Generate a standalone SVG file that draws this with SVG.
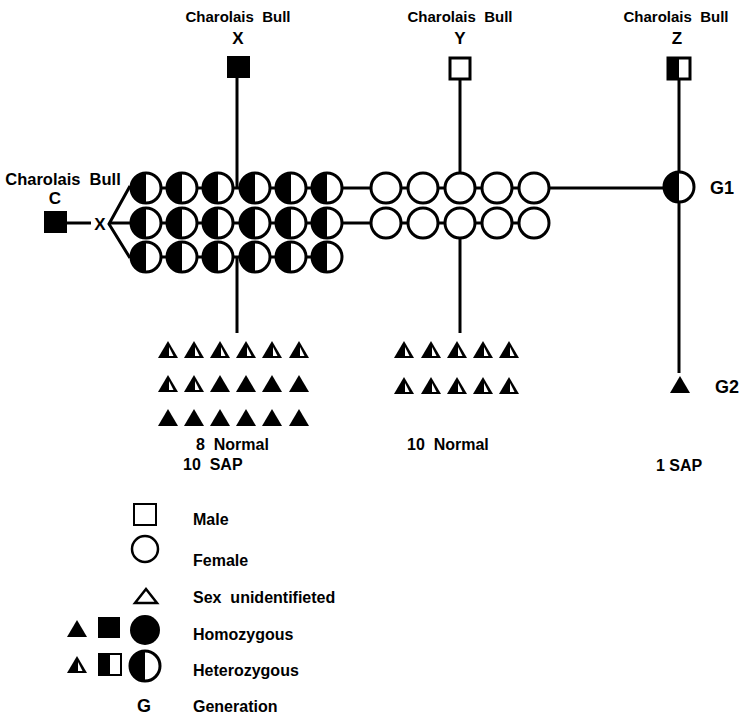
<svg xmlns="http://www.w3.org/2000/svg" xmlns:xlink="http://www.w3.org/1999/xlink" width="751" height="719" viewBox="0 0 751 719">
<style>
.ln{stroke:#000;stroke-width:3;fill:none}
.t{font-family:"Liberation Sans",Arial,sans-serif;font-weight:bold;fill:#000}
.lab{font-size:15px}
.let{font-size:17px}
.big{font-size:18px}
.leg{font-size:16px}
.sym{stroke:#000;stroke-width:3}
</style>
<defs>
<g id="het"><circle r="15" fill="#fff" stroke="#000" stroke-width="3"/><path d="M0,-15 A15,15 0 0 0 0,15 Z" fill="#000"/></g>
<g id="fem"><circle r="15" fill="#fff" stroke="#000" stroke-width="3"/></g>
<polygon id="triS" points="0,-9 10,8 -10,8" fill="#000"/>
<g id="triH"><polygon points="0,-9 10,8 -10,8" fill="#000"/><polygon points="1,-3 1,6 5.5,6" fill="#fff"/></g>
</defs>
<rect width="751" height="719" fill="#fff"/>

<g id="connectors">
<line class="ln" x1="237" y1="78" x2="237" y2="188"/>
<line class="ln" x1="237" y1="257" x2="237" y2="333"/>
<line class="ln" x1="460" y1="80" x2="460" y2="173"/>
<line class="ln" x1="460" y1="238" x2="460" y2="333"/>
<line class="ln" x1="679" y1="80" x2="679" y2="172"/>
<line class="ln" x1="679" y1="202" x2="679" y2="373"/>
<line class="ln" x1="67" y1="223" x2="91" y2="223"/>
<polyline class="ln" points="130,186 109,224 130,258" />
<line class="ln" x1="109" y1="223" x2="131" y2="223"/>
<line class="ln" x1="146" y1="188" x2="326" y2="188"/>
<line class="ln" x1="146" y1="223" x2="326" y2="223"/>
<line class="ln" x1="146" y1="257" x2="326" y2="257"/>
<line class="ln" x1="340" y1="188" x2="372" y2="188"/>
<line class="ln" x1="340" y1="223" x2="372" y2="223"/>
<line class="ln" x1="386" y1="188" x2="534" y2="188"/>
<line class="ln" x1="386" y1="223" x2="534" y2="223"/>
<line class="ln" x1="548" y1="188" x2="664" y2="188"/>
</g>

<g id="bullX">
<text class="t lab" x="238" y="22" text-anchor="middle" xml:space="preserve">Charolais  Bull</text>
<text class="t let" x="238" y="44" text-anchor="middle">X</text>
<rect x="227" y="56" width="23" height="22" fill="#000"/>
</g>
<g id="bullY">
<text class="t lab" x="460" y="22" text-anchor="middle" xml:space="preserve">Charolais  Bull</text>
<text class="t let" x="460" y="44" text-anchor="middle">Y</text>
<rect x="450" y="58" width="20" height="21" fill="#fff" class="sym" stroke-width="2"/>
</g>
<g id="bullZ">
<text class="t lab" x="676" y="22" text-anchor="middle" xml:space="preserve">Charolais  Bull</text>
<text class="t let" x="677" y="44" text-anchor="middle">Z</text>
<rect x="668" y="58" width="22" height="21" fill="#fff" class="sym" stroke-width="2"/>
<rect x="668" y="58" width="11" height="21" fill="#000"/>
</g>
<g id="bullC">
<text class="t" font-size="16.5" x="63" y="185" text-anchor="middle" xml:space="preserve">Charolais  Bull</text>
<text class="t let" x="55" y="204" text-anchor="middle">C</text>
<rect x="44" y="211" width="23" height="22" fill="#000"/>
<text class="t let" x="100" y="230" text-anchor="middle">X</text>
</g>

<g id="g1-heterozygous">
<use xlink:href="#het" x="146" y="188"/><use xlink:href="#het" x="182" y="188"/><use xlink:href="#het" x="218" y="188"/><use xlink:href="#het" x="255" y="188"/><use xlink:href="#het" x="291" y="188"/><use xlink:href="#het" x="327" y="188"/>
<use xlink:href="#het" x="146" y="223"/><use xlink:href="#het" x="182" y="223"/><use xlink:href="#het" x="218" y="223"/><use xlink:href="#het" x="255" y="223"/><use xlink:href="#het" x="291" y="223"/><use xlink:href="#het" x="327" y="223"/>
<use xlink:href="#het" x="146" y="257"/><use xlink:href="#het" x="182" y="257"/><use xlink:href="#het" x="218" y="257"/><use xlink:href="#het" x="255" y="257"/><use xlink:href="#het" x="291" y="257"/><use xlink:href="#het" x="327" y="257"/>
</g>
<g id="g1-normal-females">
<use xlink:href="#fem" x="386" y="188"/><use xlink:href="#fem" x="423" y="188"/><use xlink:href="#fem" x="460" y="188"/><use xlink:href="#fem" x="497" y="188"/><use xlink:href="#fem" x="534" y="188"/>
<use xlink:href="#fem" x="386" y="223"/><use xlink:href="#fem" x="423" y="223"/><use xlink:href="#fem" x="460" y="223"/><use xlink:href="#fem" x="497" y="223"/><use xlink:href="#fem" x="534" y="223"/>
</g>
<g id="g1-z">
<use xlink:href="#het" x="679" y="187"/>
<text class="t big" x="710" y="194">G1</text>
</g>

<g id="g2-x">
<use xlink:href="#triH" x="168" y="350"/><use xlink:href="#triH" x="194" y="350"/><use xlink:href="#triH" x="220" y="350"/><use xlink:href="#triH" x="246" y="350"/><use xlink:href="#triH" x="272" y="350"/><use xlink:href="#triH" x="299" y="350"/>
<use xlink:href="#triH" x="168" y="384"/><use xlink:href="#triH" x="194" y="384"/><use xlink:href="#triS" x="220" y="384"/><use xlink:href="#triS" x="246" y="384"/><use xlink:href="#triS" x="272" y="384"/><use xlink:href="#triS" x="299" y="384"/>
<use xlink:href="#triS" x="168" y="418"/><use xlink:href="#triS" x="194" y="418"/><use xlink:href="#triS" x="220" y="418"/><use xlink:href="#triS" x="246" y="418"/><use xlink:href="#triS" x="272" y="418"/><use xlink:href="#triS" x="299" y="418"/>
<text class="t leg" x="196" y="450" xml:space="preserve">8  Normal</text>
<text class="t leg" x="183" y="470" xml:space="preserve">10  SAP</text>
</g>
<g id="g2-y">
<use xlink:href="#triH" x="404" y="350"/><use xlink:href="#triH" x="431" y="350"/><use xlink:href="#triH" x="457" y="350"/><use xlink:href="#triH" x="483" y="350"/><use xlink:href="#triH" x="509" y="350"/>
<use xlink:href="#triH" x="404" y="386"/><use xlink:href="#triH" x="431" y="386"/><use xlink:href="#triH" x="457" y="386"/><use xlink:href="#triH" x="483" y="386"/><use xlink:href="#triH" x="509" y="386"/>
<text class="t leg" x="407" y="450" xml:space="preserve">10  Normal</text>
</g>
<g id="g2-z">
<use xlink:href="#triS" x="680" y="385"/>
<text class="t big" x="715" y="393">G2</text>
<text class="t leg" x="656" y="471">1 SAP</text>
</g>

<g id="legend">
<rect x="134" y="504" width="22" height="21" fill="#fff" stroke="#000" stroke-width="2"/>
<text class="t leg" x="193" y="525">Male</text>
<circle cx="145" cy="549" r="13" fill="#fff" stroke="#000" stroke-width="2.5"/>
<text class="t leg" x="193" y="566">Female</text>
<polygon points="146,589 157,603 135,603" fill="#fff" stroke="#000" stroke-width="2.5" stroke-linejoin="miter"/>
<text class="t leg" x="193" y="603" xml:space="preserve">Sex  unidentifieted</text>
<use xlink:href="#triS" x="77" y="629"/>
<rect x="98" y="617" width="22" height="21" fill="#000"/>
<circle cx="145" cy="630" r="15" fill="#000"/>
<text class="t leg" x="193" y="640">Homozygous</text>
<use xlink:href="#triH" x="77" y="665"/>
<rect x="99" y="654" width="22" height="21" fill="#fff" stroke="#000" stroke-width="2"/>
<rect x="99" y="654" width="11" height="21" fill="#000"/>
<use xlink:href="#het" x="145" y="666"/>
<text class="t leg" x="193" y="676">Heterozygous</text>
<text class="t big" x="144" y="712" text-anchor="middle">G</text>
<text class="t leg" x="193" y="712">Generation</text>
</g>
</svg>
